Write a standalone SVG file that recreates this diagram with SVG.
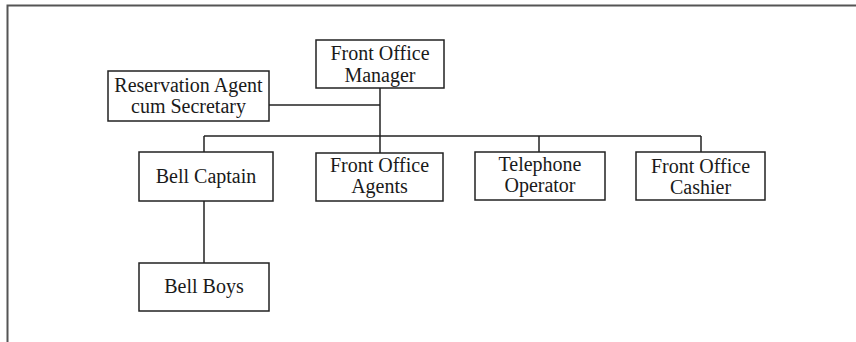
<svg xmlns="http://www.w3.org/2000/svg" width="856" height="342" viewBox="0 0 856 342">
  <style>
    .box { fill: #ffffff; stroke: #222222; stroke-width: 1.5; }
    .lbl { font-family: "Liberation Serif", "Times New Roman", serif; font-size: 20px; fill: #1a1a1a; text-anchor: middle; }
    .wire { fill: none; stroke: #222222; stroke-width: 1.5; }
    .frame { fill: none; stroke: #555555; stroke-width: 2; }
  </style>
  <rect x="0" y="0" width="856" height="342" fill="#ffffff"/>
  <!-- page frame: top and left rules -->
  <path class="frame" d="M7.5 342 V5.5 H856"/>

  <g id="connectors">
    <!-- manager down to the staff bus and on to the agents -->
    <path class="wire" d="M380 88 V153"/>
    <!-- secretary tie-in -->
    <path class="wire" d="M269 105 H380"/>
    <!-- staff bus -->
    <path class="wire" d="M204 136 H701"/>
    <path class="wire" d="M204 136 V152"/>
    <path class="wire" d="M539 136 V152"/>
    <path class="wire" d="M701 136 V152"/>
    <!-- bell captain to bell boys -->
    <path class="wire" d="M204 201 V263"/>
  </g>

  <g id="front-office-manager">
    <rect class="box" x="316" y="40" width="128" height="48"/>
    <text class="lbl" x="380" y="60">Front Office</text>
    <text class="lbl" x="380" y="81.5">Manager</text>
  </g>

  <g id="reservation-agent">
    <rect class="box" x="108" y="71" width="161" height="50"/>
    <text class="lbl" x="188.5" y="91.5">Reservation Agent</text>
    <text class="lbl" x="188.5" y="112.5">cum Secretary</text>
  </g>

  <g id="bell-captain">
    <rect class="box" x="139" y="152" width="134" height="49"/>
    <text class="lbl" x="206" y="183">Bell Captain</text>
  </g>

  <g id="front-office-agents">
    <rect class="box" x="316" y="153" width="127" height="48"/>
    <text class="lbl" x="379.5" y="172">Front Office</text>
    <text class="lbl" x="379.5" y="193">Agents</text>
  </g>

  <g id="telephone-operator">
    <rect class="box" x="475" y="152" width="130" height="48"/>
    <text class="lbl" x="540" y="171">Telephone</text>
    <text class="lbl" x="540" y="192">Operator</text>
  </g>

  <g id="front-office-cashier">
    <rect class="box" x="636" y="152" width="129" height="48"/>
    <text class="lbl" x="700.5" y="172.5">Front Office</text>
    <text class="lbl" x="700.5" y="193.5">Cashier</text>
  </g>

  <g id="bell-boys">
    <rect class="box" x="139" y="263" width="130" height="48"/>
    <text class="lbl" x="204" y="293">Bell Boys</text>
  </g>
</svg>
